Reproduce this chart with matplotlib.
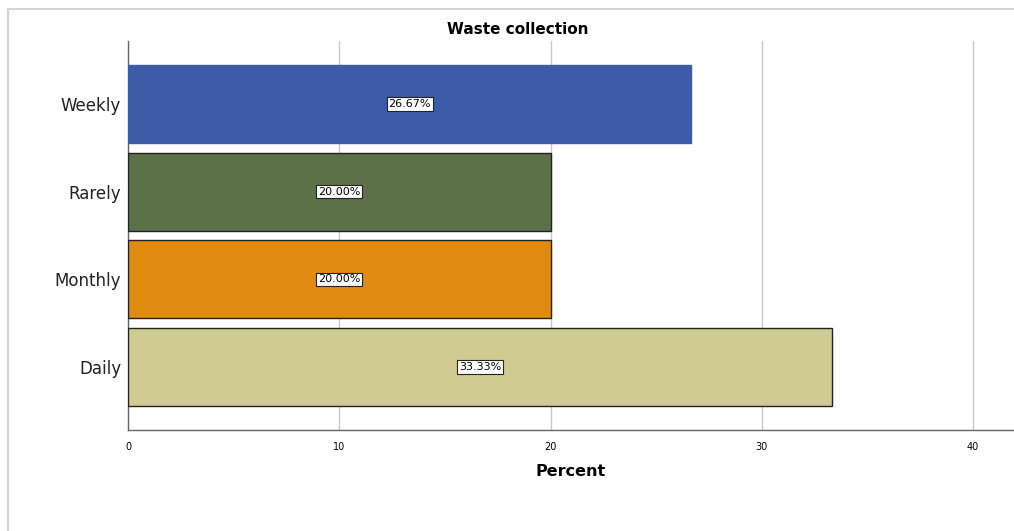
import matplotlib.pyplot as plt
from matplotlib.patches import Rectangle

plt.rcParams['font.family'] = ['DejaVu Sans']

categories = ['Daily', 'Monthly', 'Rarely', 'Weekly']
percent = [33.33, 20.00, 20.00, 26.67]
colors = ['#d0cb91', '#e08b10', '#5c7148', '#3e5ba8']
edges = ['#222222', '#222222', '#222222', '#3e5ba8']

W, H = 1014, 531
fig = plt.figure(figsize=(W / 100, H / 100), dpi=100)
fig.patch.set_facecolor('white')

# outer frame
fig.patches.append(Rectangle((8 / W, -0.1), 1.2, (H - 9) / H + 0.1, transform=fig.transFigure,
                             fill=False, edgecolor='#d4d4d4', linewidth=1.5))

ax = fig.add_axes([128 / W, 1 - 430 / H, (W - 128) / W, (430 - 41) / H])
ax.barh(range(len(categories)), percent, height=0.89, color=colors,
        edgecolor=edges, linewidth=1.0, zorder=3)

for i, v in enumerate(percent):
    ax.text(v / 2, i, f'{v:.2f}%', ha='center', va='center', fontsize=8,
            zorder=4, bbox=dict(boxstyle='square,pad=0.15', facecolor='white',
                                edgecolor='#222222', linewidth=0.8))

ax.set_xlim(0, (W - 128) / 21.125)
ax.set_ylim(-0.72, 3.72)
ax.set_xticks([0, 10, 20, 30, 40])
ax.set_yticks(range(len(categories)))
ax.set_yticklabels(categories, fontsize=12, color='#222222')
ax.tick_params(axis='x', labelsize=7, length=0, pad=9)
ax.tick_params(axis='y', length=0, pad=5)
ax.grid(axis='x', color='#c8c8c8', linewidth=1.0, zorder=0)

for s in ['top', 'right']:
    ax.spines[s].set_visible(False)
for s in ['left', 'bottom']:
    ax.spines[s].set_color('#666666')
    ax.spines[s].set_linewidth(1.0)

ax.set_xlabel('Percent', fontsize=11.5, fontweight='bold', labelpad=8)
fig.text(518 / W, 1 - 30 / H, 'Waste collection',
         ha='center', va='center', fontsize=11, fontweight='bold')

fig.savefig('out.png', dpi=100)
